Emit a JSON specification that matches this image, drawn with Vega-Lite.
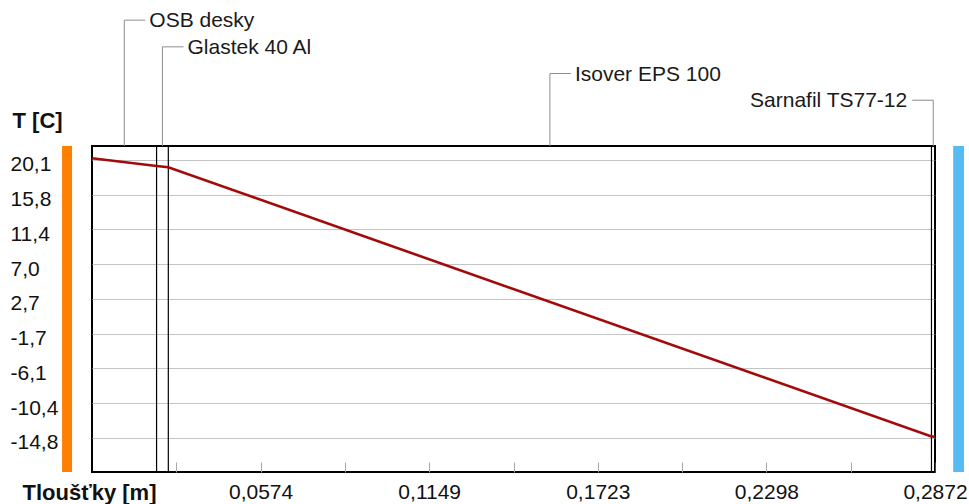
{
  "$schema": "https://vega.github.io/schema/vega-lite/v6.json",
  "width": 843,
  "height": 326,
  "autosize": {"type": "none"},
  "padding": {"left": 92, "top": 146, "right": 34, "bottom": 32},
  "background": "#ffffff",
  "config": {
    "view": {"stroke": "#000000", "strokeWidth": 2},
    "font": "Liberation Sans",
    "axis": {"labelColor": "#111111", "titleColor": "#111111"}
  },
  "datasets": {
    "layers": [
      {"name": "OSB desky", "from": 0, "to": 0.022, "tier": 1},
      {"name": "Glastek 40 Al", "from": 0.022, "to": 0.026, "tier": 2},
      {"name": "Isover EPS 100", "from": 0.026, "to": 0.286, "tier": 3},
      {"name": "Sarnafil TS77-12", "from": 0.286, "to": 0.2872, "tier": 4}
    ],
    "profile": [
      {"depth": 0, "temp": 20.32},
      {"depth": 0.022, "temp": 19.35},
      {"depth": 0.026, "temp": 19.19},
      {"depth": 0.286, "temp": -14.61},
      {"depth": 0.2872, "temp": -14.63}
    ],
    "sides": [{"side": "interior"}]
  },
  "layer": [
    {
      "data": {"name": "sides"},
      "mark": {"type": "rect", "color": "#ff8000"},
      "encoding": {
        "x": {"datum": -0.0102},
        "x2": {"datum": -0.0068},
        "y": {"datum": 21.86},
        "y2": {"datum": -19.07}
      }
    },
    {
      "data": {"name": "sides"},
      "mark": {"type": "rect", "color": "#55bbf2"},
      "encoding": {
        "x": {"datum": 0.2934},
        "x2": {"datum": 0.2971},
        "y": {"datum": 21.86},
        "y2": {"datum": -19.07}
      }
    },
    {
      "data": {"name": "layers"},
      "transform": [
        {"calculate": "(datum.from + datum.to) / 2", "as": "mid"},
        {"calculate": "24.26 + 3.35 * (5 - datum.tier)", "as": "calloutT"},
        {"calculate": "datum.tier == 4 ? -1 : 1", "as": "side"},
        {"calculate": "datum.mid + datum.side * 0.00716", "as": "leaderEnd"}
      ],
      "layer": [
        {
          "mark": {"type": "rule", "color": "#000000", "strokeWidth": 1.2},
          "encoding": {"x": {"field": "to", "type": "quantitative"}}
        },
        {
          "mark": {"type": "rule", "color": "#8c8c8c", "strokeWidth": 1},
          "encoding": {
            "x": {"field": "mid", "type": "quantitative"},
            "y": {"field": "calloutT", "type": "quantitative"},
            "y2": {"datum": 21.86}
          }
        },
        {
          "mark": {"type": "rule", "color": "#8c8c8c", "strokeWidth": 1},
          "encoding": {
            "x": {"field": "mid", "type": "quantitative"},
            "x2": {"field": "leaderEnd"},
            "y": {"field": "calloutT", "type": "quantitative"}
          }
        },
        {
          "transform": [{"filter": "datum.side > 0"}],
          "mark": {"type": "text", "align": "left", "baseline": "middle", "dx": 4, "dy": 1, "fontSize": 21, "color": "#1a1a1a"},
          "encoding": {
            "x": {"field": "leaderEnd", "type": "quantitative"},
            "y": {"field": "calloutT", "type": "quantitative"},
            "text": {"field": "name"}
          }
        },
        {
          "transform": [{"filter": "datum.side < 0"}],
          "mark": {"type": "text", "align": "right", "baseline": "middle", "dx": -5, "dy": 1, "fontSize": 21, "color": "#1a1a1a"},
          "encoding": {
            "x": {"field": "leaderEnd", "type": "quantitative"},
            "y": {"field": "calloutT", "type": "quantitative"},
            "text": {"field": "name"}
          }
        }
      ]
    },
    {
      "data": {"name": "profile"},
      "mark": {"type": "line", "color": "#a30a0a", "strokeWidth": 2.6},
      "encoding": {
        "x": {
          "field": "depth",
          "type": "quantitative",
          "scale": {"domain": [0, 0.2872], "nice": false, "zero": false},
          "axis": {
            "title": "Tloušťky [m]",
            "titleFontSize": 22,
            "titleFontWeight": "bold",
            "titleAlign": "left",
            "titleBaseline": "middle",
            "titleX": -70,
            "titleY": 20,
            "values": [0.02872, 0.05744, 0.08616, 0.11488, 0.1436, 0.17232, 0.20104, 0.22976, 0.25848, 0.2872],
            "labelExpr": "round(datum.value / 0.02872) % 2 == 0 ? replace(format(datum.value, '.4f'), '.', ',') : ''",
            "labelFontSize": 21,
            "labelBaseline": "middle",
            "labelPadding": 30,
            "labelFlush": false,
            "labelOverlap": false,
            "domain": false,
            "grid": false,
            "ticks": true,
            "tickSize": -10,
            "tickColor": "#a8a8a8",
            "tickWidth": 1
          }
        },
        "y": {
          "field": "temp",
          "type": "quantitative",
          "scale": {"domain": [-19.07, 21.86], "nice": false, "zero": false},
          "axis": {
            "title": "T [C]",
            "titleFontSize": 22,
            "titleFontWeight": "bold",
            "titleAngle": 0,
            "titleAlign": "left",
            "titleBaseline": "middle",
            "titleX": -80,
            "titleY": -26,
            "values": [20.13, 15.764, 11.398, 7.032, 2.666, -1.7, -6.066, -10.432, -14.798],
            "labelExpr": "replace(replace(format(datum.value, '.1f'), '.', ','), '\u2212', '-')",
            "labelFontSize": 21,
            "labelAlign": "left",
            "labelBaseline": "middle",
            "labelPadding": 82,
            "labelOffset": 5,
            "labelFlush": false,
            "labelOverlap": false,
            "domain": false,
            "ticks": false,
            "tickSize": 0,
            "grid": true,
            "gridColor": "#c4c4c4",
            "gridWidth": 1
          }
        }
      }
    }
  ]
}
